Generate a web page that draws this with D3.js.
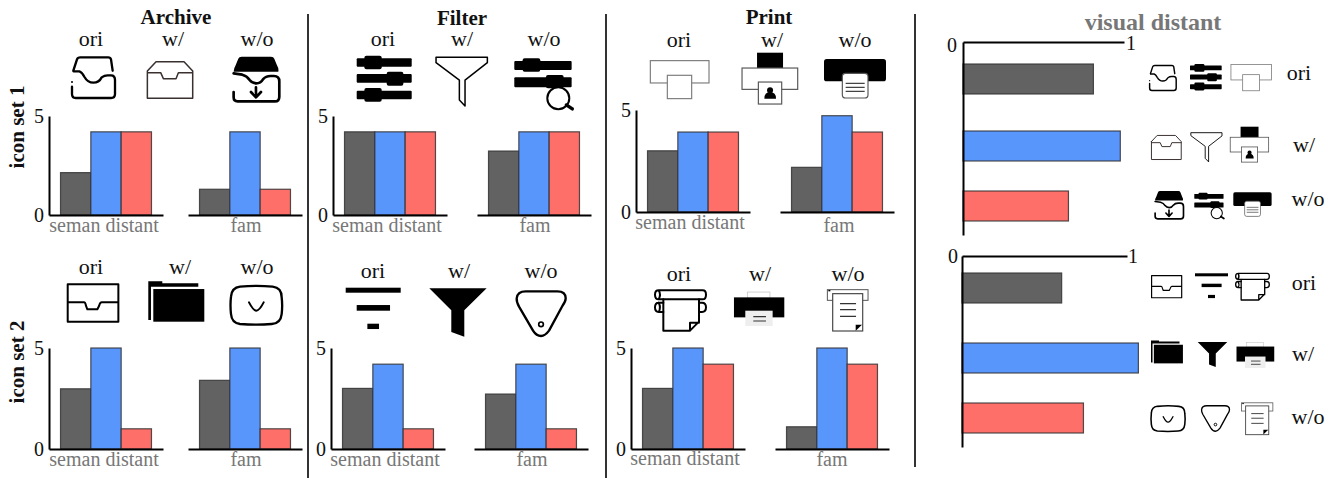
<!DOCTYPE html>
<html>
<head>
 <meta charset="UTF-8">
 <title>Icon distance study</title>
 <script src="https://d3js.org/d3.v7.min.js"></script>
 <style>
  html, body { margin: 0; padding: 0; background: #fff; }
  svg { display: block; font-family: "Liberation Serif", serif; }
  .ln { fill: none; stroke: #000; stroke-linecap: round; stroke-linejoin: round; }
 </style>
</head>
<body>
<script type="text/javascript">
// values
var seriesNames = ["ori", "w/", "w/o"];
var groupNames = ["seman distant", "fam"];
var taskNames = ["Archive", "Filter", "Print"];
var rowNames = ["icon set 1", "icon set 2"];
var yTicks = [0, 5];
var xTickLabels = ["0", "1"];

var archive1Seman = [2.14, 4.2, 4.2];
var archive1Fam = [1.3, 4.2, 1.3];
var archive2Seman = [2.98, 5, 1];
var archive2Fam = [3.4, 5, 1];
var filter1Seman = [4.2, 4.2, 4.2];
var filter1Fam = [3.23, 4.2, 4.2];
var filter2Seman = [3, 4.2, 1];
var filter2Fam = [2.72, 4.2, 1];
var print1Seman = [3, 3.92, 3.92];
var print1Fam = [2.19, 4.72, 3.92];
var print2Seman = [3, 5, 4.2];
var print2Fam = [1.1, 5, 4.2];
var visual1 = [0.81, 0.977, 0.655];
var visual2 = [0.604, 1.069, 0.736];

var colors = ["#626262", "#5896fc", "#ff6f69"];

// icons, each in its own box at three times the size of the picture
var icons = {
  archOri: '<path class="ln" stroke-width="7" d="M7,42 L18,8 Q20,2 28,2 L112,2 Q118,2 120,8 L125,42"/>' +
    '<path class="ln" stroke-width="7" d="M8,44 L25,44 Q33,46 40,60 Q50,78 67,78 Q84,78 92,62 Q100,56 110,56 L120,56 Q132,56 132,70 L132,112 Q132,124 120,124 L14,124 Q3,124 3,112 L3,90"/>' +
    '<circle cx="3" cy="76" r="3"/>',
  archW: '<path class="ln" style="stroke:#3a3030" stroke-width="4.5" d="M2,30 L2,112 L138,112 L138,30 L112,2 L28,2 L2,30 Z M2,35 L42,35 L50,53 L88,53 L95,35 L138,35"/>',
  archWo: '<path d="M4,47 Q4,38 10,28 L18,8 Q20,2 28,2 L116,2 Q124,2 126,8 L134,28 Q140,38 138,47 Z"/>' +
    '<path class="ln" stroke-width="8" d="M4,52 L30,56 Q45,60 52,72 Q60,82 72,82 Q85,82 92,70 Q100,60 115,60 L125,60 Q141,60 141,76 L141,122 Q141,136 128,136 L16,136 Q4,136 4,124 L4,108"/>' +
    '<path class="ln" stroke-width="8" d="M71,94 L71,122 M56,108 L71,124 L86,108"/>',
  archOri2: '<path class="ln" stroke-width="6" d="M3,3 H155 V115 H3 Z M3,57 H52 Q56,57 58,68 L62,78 H92 L97,68 Q100,57 105,57 H155"/>',
  archW2: '<path d="M0,118 V2 H42 V8 H150 V18 H8 V118 Z"/><rect x="15" y="25" width="153" height="98"/>',
  archWo2: '<path class="ln" stroke-width="7" d="M30,3 Q79,-2 128,3 Q155,6 155,35 Q158,59 155,85 Q152,113 125,115 Q79,119 30,115 Q5,112 3,85 Q0,59 3,33 Q5,6 30,3 Z"/>' +
    '<path class="ln" stroke-width="6" d="M57,50 Q70,75 79,75 Q88,75 101,50"/>',
  filterOri: '<rect y="8" width="165" height="25" rx="3"/><rect x="23" width="52" height="41" rx="6"/>' +
    '<rect y="55" width="165" height="26" rx="3"/><rect x="90" y="48" width="50" height="42" rx="6"/>' +
    '<rect y="105" width="165" height="26" rx="3"/><rect x="23" y="97" width="52" height="41" rx="6"/>',
  filterW: '<path class="ln" stroke-width="4.5" d="M1,2 L155,2 L155,18 L88,70 L88,148 L71,130 L71,70 L1,18 Z"/>',
  filterWo: '<rect y="8" width="172" height="27" rx="3"/><rect x="25" width="53" height="40" rx="6"/>' +
    '<rect y="57" width="172" height="30" rx="3"/><rect x="95" y="50" width="53" height="40" rx="6"/>' +
    '<circle cx="132" cy="120" r="33" fill="#fff" stroke="#000" stroke-width="6"/>' +
    '<path class="ln" stroke-width="10" d="M156,140 L174,152"/>',
  filterOri2: '<rect width="165" height="15"/><rect x="33" y="52" width="100" height="17"/><rect x="65" y="108" width="35" height="16"/>',
  filterW2: '<path d="M0,2 L172,2 L105,68 L105,147 L66,133 L66,68 Z"/>',
  filterWo2: '<path class="ln" stroke-width="7" d="M30,4 H125 Q150,4 150,25 Q150,35 140,48 L100,122 Q88,138 76,138 Q62,138 52,122 L10,50 Q2,35 3,25 Q5,4 30,4 Z"/>' +
    '<circle cx="76" cy="103" r="7" fill="none" stroke="#000" stroke-width="5"/>',
  printOri: '<rect x="1" y="1" width="176" height="67" fill="#fff" stroke="#7c7c7c" stroke-width="3.5"/>' +
    '<rect x="52" y="45" width="73" height="70" fill="#fff" stroke="#7c7c7c" stroke-width="3.5"/>',
  printW: '<rect x="46" width="78" height="46"/><rect x="1" y="46" width="167" height="64" fill="#fff" stroke="#555" stroke-width="3.5"/>' +
    '<rect x="50" y="88" width="70" height="66" fill="#fff" stroke="#555" stroke-width="3.5"/>' +
    '<circle cx="85" cy="113" r="9"/><path d="M68,138 Q68,118 85,118 Q103,118 103,138 Z"/>',
  printWo: '<rect width="186" height="67" rx="8"/><rect x="55" y="43" width="77" height="74" rx="10" fill="#fff" stroke="#555" stroke-width="3.5"/>' +
    '<path stroke="#444" stroke-width="3.5" d="M65,73 H122 M65,85 H122 M65,97 H122"/>',
  printOri2: '<path class="ln" stroke-width="6" d="M14,3 H146 Q156,3 156,16 Q156,30 146,30 H14 Q3,30 3,16 Q3,3 14,3 Z M14,3 Q22,16 14,30"/>' +
    '<path class="ln" stroke-width="6" d="M28,40 H14 Q3,40 3,54 Q3,68 14,68 H28 M14,40 Q22,54 14,68 M135,40 H144 Q156,40 156,54 Q156,68 144,68 H135"/>' +
    '<path class="ln" stroke-width="6" d="M28,30 V124 H108 L135,97 V30 M108,124 V100 H135"/>',
  printW2: '<rect x="42" y="1" width="68" height="18" fill="#fff" stroke="#bbb" stroke-width="2"/><rect x="2" y="17" width="151" height="60"/>' +
    '<rect x="36" y="57" width="82" height="46" fill="#eee"/><path stroke="#333" stroke-width="3.5" d="M60,75 H98 M60,88 H98"/>',
  printWo2: '<rect x="2" y="2" width="122" height="32" fill="#fff" stroke="#555" stroke-width="3"/><rect x="5" y="3" width="6" height="4"/>' +
    '<rect x="18" y="14" width="90" height="112" fill="#fff" stroke="#444" stroke-width="3.5"/>' +
    '<path stroke="#333" stroke-width="3.5" d="M40,44 H88 M40,62 H88 M40,82 H88"/><path d="M87,125 V107 H106 Z"/>'
};

var width = 1338;
var height = 478;
var svg = d3.select("body").append("svg").attr("width", width).attr("height", height);

function label(x, y, str, size, color, bold) {
  return svg.append("text").attr("x", x).attr("y", y).attr("text-anchor", "middle")
    .style("font-size", size + "px").style("fill", color || "#111")
    .style("font-weight", bold ? "bold" : "normal").text(str);
}

function putIcon(name, x, y, s) {
  svg.append("g").attr("transform", "translate(" + x + "," + y + ") scale(" + s + ")").html(icons[name]);
}

// one small chart: y axis, two groups of three bars
function drawChart(c) {
  var y = d3.scaleLinear().domain([0, 5]).range([c.base, c.top]);
  var yAxis = d3.axisLeft(y).tickValues(yTicks).tickSize(0).tickPadding(5).tickFormat(d3.format("d"));
  [c.seman, c.fam].forEach(function (values, i) {
    var x0 = c.segs[i];
    var x = d3.scaleBand().domain(seriesNames).range([x0, x0 + 114]).paddingInner(0).paddingOuter(0.38);
    var g = svg.append("g");
    g.selectAll("rect").data(values).enter().append("rect")
      .attr("x", function (d, k) { return x(seriesNames[k]); })
      .attr("y", function (d) { return y(d); })
      .attr("width", x.bandwidth())
      .attr("height", function (d) { return c.base - y(d); })
      .attr("fill", function (d, k) { return colors[k]; })
      .attr("stroke", "#333").attr("stroke-opacity", 0.85).attr("stroke-width", 1.2);
    var axis = g.append("g").attr("transform", "translate(0," + c.base + ")")
      .call(d3.axisBottom(x).tickSize(0).tickSizeOuter(0).tickFormat(""));
    axis.select(".domain").attr("stroke", "#000").attr("stroke-width", 2);
    label(c.labelX[i], c.labelY[i], groupNames[i], 20, "#777");
  });
  var a = svg.append("g").attr("transform", "translate(" + c.segs[0] + ",0)").call(yAxis);
  a.select(".domain").attr("stroke", "#000").attr("stroke-width", 2);
  a.selectAll("text").style("font-family", "Liberation Serif").style("font-size", "20px").style("fill", "#111");
  seriesNames.forEach(function (s, k) { label(c.headX[k], c.headY, s, 22); });
  c.icons.forEach(function (d) { putIcon(d[0], d[1], d[2], 1 / 3); });
}

var charts = [
  { seman: archive1Seman, fam: archive1Fam, top: 116, base: 215, segs: [49, 188], labelX: [104, 246], labelY: [232, 232], headX: [91, 173, 257], headY: 46,
    icons: [["archOri", 71, 56.7], ["archW", 146.7, 61], ["archWo", 232.3, 56]] },
  { seman: archive2Seman, fam: archive2Fam, top: 348, base: 449, segs: [49, 188], labelX: [104, 246], labelY: [466, 466], headX: [91, 180, 257], headY: 274,
    icons: [["archOri2", 66.7, 283.3], ["archW2", 148.3, 280.7], ["archWo2", 230, 285.7]] },
  { seman: filter1Seman, fam: filter1Fam, top: 116, base: 215, segs: [333, 477], labelX: [387, 535], labelY: [232, 232], headX: [383, 462, 544], headY: 46,
    icons: [["filterOri", 356.7, 55.7], ["filterW", 435.7, 56.7], ["filterWo", 514.3, 58.3]] },
  { seman: filter2Seman, fam: filter2Fam, top: 348, base: 449, segs: [331, 474], labelX: [385, 532], labelY: [466, 466], headX: [373, 459, 541], headY: 278,
    icons: [["filterOri2", 345.7, 287.7], ["filterW2", 429.3, 287.7], ["filterWo2", 515.7, 290]] },
  { seman: print1Seman, fam: print1Fam, top: 110, base: 212, segs: [636, 780], labelX: [690, 839], labelY: [229, 232], headX: [679, 772, 855], headY: 47,
    icons: [["printOri", 650, 60.3], ["printW", 741.7, 52.7], ["printWo", 824, 59]] },
  { seman: print2Seman, fam: print2Fam, top: 348, base: 449, segs: [631, 775], labelX: [685, 832], labelY: [465, 466], headX: [679, 760, 848], headY: 281,
    icons: [["printOri2", 654, 289.3], ["printW2", 733.3, 291.7], ["printWo2", 826.7, 289]] }
];
charts.forEach(drawChart);

label(176, 24, taskNames[0], 21, "#111", true);
label(462, 25, taskNames[1], 21, "#111", true);
label(769, 24, taskNames[2], 21, "#111", true);
svg.append("text").attr("transform", "translate(24,127) rotate(-90)").attr("text-anchor", "middle")
  .style("font-size", "21px").style("font-weight", "bold").style("fill", "#111").text(rowNames[0]);
svg.append("text").attr("transform", "translate(24,362) rotate(-90)").attr("text-anchor", "middle")
  .style("font-size", "21px").style("font-weight", "bold").style("fill", "#111").text(rowNames[1]);

// dividers
[[308, 14, 478], [606, 14, 478], [915, 14, 467]].forEach(function (d) {
  svg.append("line").attr("x1", d[0]).attr("x2", d[0]).attr("y1", d[1]).attr("y2", d[2])
    .attr("stroke", "#333").attr("stroke-width", 2);
});

// right side: visual distance
function drawVisual(p) {
  var x = d3.scaleLinear().domain([0, 1]).range([p.x0, p.x1]);
  var y = d3.scaleOrdinal().domain(seriesNames).range(p.rows);
  svg.selectAll(null).data(p.values).enter().append("rect")
    .attr("x", x(0))
    .attr("y", function (d, k) { return y(seriesNames[k]); })
    .attr("width", function (d) { return x(d) - x(0); })
    .attr("height", 30)
    .attr("fill", function (d, k) { return colors[k]; })
    .attr("stroke", "#333").attr("stroke-opacity", 0.85).attr("stroke-width", 1.2);
  var a = svg.append("g").attr("transform", "translate(0," + p.top + ")")
    .call(d3.axisTop(x).tickValues([0, 1]).tickSize(0).tickFormat(""));
  a.select(".domain").attr("stroke", "#000").attr("stroke-width", 2);
  var b = svg.append("g").attr("transform", "translate(" + p.x0 + ",0)")
    .call(d3.axisLeft(d3.scaleLinear().range([p.top, p.bottom])).tickValues([]).tickSize(0));
  b.select(".domain").attr("stroke", "#000").attr("stroke-width", 2);
  label(p.tickX[0], p.tickY[0], xTickLabels[0], 20);
  label(p.tickX[1], p.tickY[1], xTickLabels[1], 20);
  seriesNames.forEach(function (s, k) { label(p.nameX[k], p.nameY[k], s, 22); });
  p.icons.forEach(function (d) { putIcon(d[0], d[1], d[2], d[3]); });
}

label(1153, 30, "visual distant", 24, "#777", true);

drawVisual({ values: visual1, x0: 963, x1: 1124, top: 42, bottom: 235, rows: [64, 131, 191], tickX: [952, 1131], tickY: [52, 50],
  nameX: [1299, 1304, 1308], nameY: [80, 152, 206],
  icons: [["archOri", 1149, 65, 0.206], ["filterOri", 1190, 64, 0.192], ["printOri", 1230.7, 64.3, 0.23],
    ["archW", 1151, 135, 0.219], ["filterW", 1191, 132.3, 0.2], ["printW", 1230, 126.7, 0.23],
    ["archWo", 1154.3, 190.7, 0.207], ["filterWo", 1194.3, 192.7, 0.17], ["printWo", 1233.3, 192.3, 0.206]] });

drawVisual({ values: visual2, x0: 962, x1: 1127, top: 256, bottom: 447, rows: [273, 343, 403], tickX: [953, 1133], tickY: [263, 263],
  nameX: [1304, 1303, 1308], nameY: [290, 361, 424],
  icons: [["archOri2", 1151, 275, 0.198], ["filterOri2", 1195, 273.3, 0.2], ["printOri2", 1235, 272.7, 0.22],
    ["archW2", 1151, 340, 0.19], ["filterW2", 1197.7, 341.7, 0.172], ["printW2", 1236, 342.3, 0.25],
    ["archWo2", 1150.7, 405.7, 0.22], ["filterWo2", 1201, 405, 0.19], ["printWo2", 1241, 402.3, 0.257]] });
</script>
</body>
</html>
